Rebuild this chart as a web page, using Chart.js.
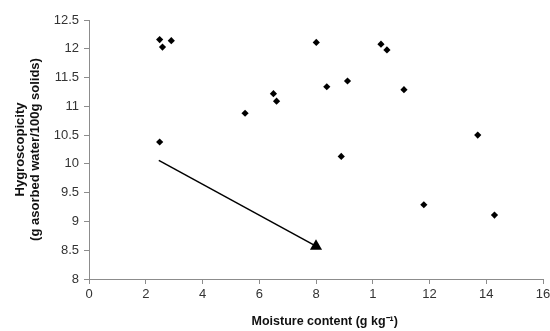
<!DOCTYPE html>
<html>
<head>
<meta charset="utf-8">
<script src="https://cdn.jsdelivr.net/npm/chart.js@4"></script>
<style>
html,body{margin:0;padding:0;background:#fff;}
#wrap{width:550px;height:331px;position:relative;}
</style>
</head>
<body>
<div id="wrap"><canvas id="c" width="550" height="331"></canvas></div>
<script>
// Data
const moisture = [2.49, 2.59, 2.90, 2.49, 5.50, 6.50, 6.61, 8.01, 8.38, 9.11, 8.89, 10.29, 10.50, 11.10, 13.70, 11.80, 14.29];
const hygroscopicity = [12.16, 12.03, 12.14, 10.38, 10.88, 11.22, 11.09, 12.11, 11.34, 11.44, 10.13, 12.08, 11.98, 11.29, 10.50, 9.29, 9.11];
const arrowX = [2.46, 8.0];
const arrowY = [10.06, 8.57];
const xTickValues = [0, 2, 4, 6, 8, 10, 12, 14, 16];
const xTickLabels = ['0', '2', '4', '6', '8', '1', '12', '14', '16'];
const yTickLabels = ['8', '8.5', '9', '9.5', '10', '10.5', '11', '11.5', '12', '12.5'];

const points = moisture.map((x, i) => ({x: x, y: hygroscopicity[i]}));
const arrow = arrowX.map((x, i) => ({x: x, y: arrowY[i]}));

const axisColor = '#8c8c8c';
const textColor = '#333333';

new Chart(document.getElementById('c'), {
  type: 'scatter',
  data: {
    datasets: [
      {
        data: points,
        backgroundColor: '#000',
        borderColor: '#000',
        pointStyle: 'rectRot',
        pointRadius: 3.6,
        borderWidth: 0
      },
      {
        data: arrow,
        showLine: true,
        borderColor: '#000',
        borderWidth: 1.5,
        backgroundColor: '#000',
        pointStyle: 'triangle',
        pointRadius: [0, 7],
        pointBorderWidth: 0,
        pointRotation: 0
      }
    ]
  },
  options: {
    responsive: false,
    animation: false,
    events: [],
    layout: {padding: {top: 20, right: 0, left: 13, bottom: 2}},
    plugins: {legend: {display: false}, tooltip: {enabled: false}},
    scales: {
      x: {
        type: 'linear',
        min: 0, max: 16,
        afterBuildTicks: s => { s.ticks = xTickValues.map(v => ({value: v})); },
        afterFit: s => { s.height = 50; s.paddingRight = 5; },
        border: {color: axisColor, width: 1},
        grid: {display: true, drawOnChartArea: false, drawTicks: true, tickLength: 5, color: axisColor},
        ticks: {
          color: textColor,
          font: {family: 'Liberation Sans', size: 13},
          padding: 3,
          maxRotation: 0,
          callback: (v) => { const i = xTickValues.indexOf(v); return i >= 0 ? xTickLabels[i] : ''; }
        },
        title: {
          display: true,
          text: '     Moisture content (g kg\u207B\u00B9)',
          color: '#111',
          font: {family: 'Liberation Sans', size: 12.5, weight: 'bold'},
          padding: {top: 4, bottom: 0}
        }
      },
      y: {
        type: 'linear',
        min: 8, max: 12.5,
        afterBuildTicks: s => { s.ticks = yTickLabels.map(l => ({value: parseFloat(l)})); },
        afterFit: s => { s.width = 76; },
        border: {color: axisColor, width: 1},
        grid: {display: true, drawOnChartArea: false, drawTicks: true, tickLength: 5, color: axisColor},
        ticks: {
          color: textColor,
          font: {family: 'Liberation Sans', size: 13},
          padding: 5,
          callback: (v) => { const i = yTickLabels.findIndex(l => parseFloat(l) === v); return i >= 0 ? yTickLabels[i] : ''; }
        },
        title: {
          display: true,
          text: ['Hygroscopicity', '(g asorbed water/100g solids)'],
          color: '#111',
          font: {family: 'Liberation Sans', size: 13, weight: 'bold', lineHeight: 1.15},
          padding: {top: 0, bottom: 6}
        }
      }
    }
  }
});
</script>
</body>
</html>
